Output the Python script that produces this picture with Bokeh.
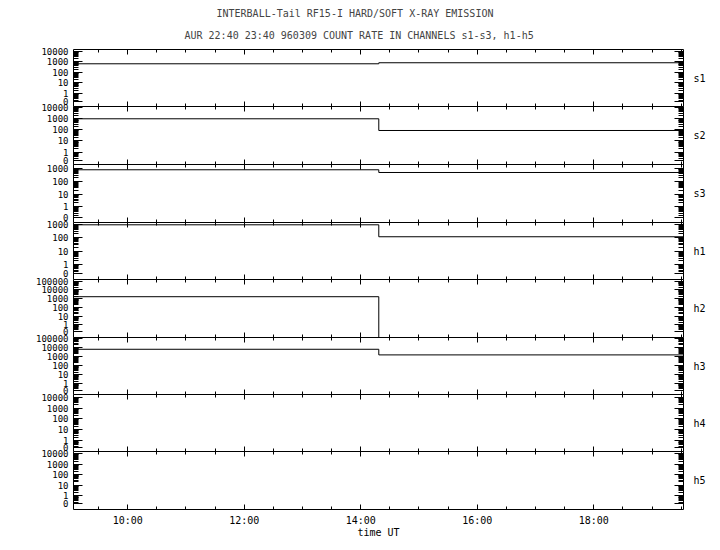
from bokeh.plotting import figure
from bokeh.models import LinearAxis, LogAxis, FixedTicker, Title, Range1d
from bokeh.layouts import column
from bokeh.embed import file_html
from bokeh.resources import INLINE

# ---------------- data ----------------
channels = ["s1", "s2", "s3", "h1", "h2", "h3", "h4", "h5"]
# time in hours UT: start, step time, end
times = [9.0, 14.31, 19.6]
s1 = [630, 790, 790]
s2 = [930, 85, 85]
s3 = [820, 500, 500]
h1 = [890, 116, 116]
h2 = [1700, 0, 0]
h3 = [6300, 1520, 1520]
h4 = []
h5 = []
series = [s1, s2, s3, h1, h2, h3, h4, h5]

# y tick labels per panel (top decade)
y_top_labels = ["10000", "10000", "1000", "1000", "100000", "100000", "10000", "10000"]

x_tick_values = [10, 12, 14, 16, 18]
x_tick_labels = ["10:00", "12:00", "14:00", "16:00", "18:00"]
x_minor_ticks = [9.5, 10.5, 11, 11.5, 12.5, 13, 13.5, 14.5, 15, 15.5, 16.5, 17, 17.5, 18.5, 19, 19.5]

title1 = "INTERBALL-Tail RF15-I HARD/SOFT X-RAY EMISSION"
title2 = "AUR 22:40 23:40 960309  COUNT RATE IN CHANNELS s1-s3, h1-h5"
x_label = "time UT"

# ---------------- layout / style config ----------------
x_start, x_end = 9.07, 19.54
# log10 extent of each panel (bottom, top)
y_log_extent = [(-1.27, 4.16), (-1.09, 4.06), (-1.25, 3.33), (-1.10, 3.12),
                (-1.44, 5.20), (-1.16, 5.09), (-1.02, 4.26), (-1.35, 4.23)]
# where the "0" label sits (log10 below 1)
zero_pos = [-0.76, -0.74, -0.85, -0.66, -0.77, -0.73, -0.62, -0.80]
frame_heights = [57, 58, 58, 57, 58, 57, 57, 58]

FONT = "DejaVu Sans Mono"
FRAME_W = 610
LEFT_B = 73
RIGHT_B = 29
PAD = 7   # transparent overlap so tick labels may spill into neighbours

minor_all = sorted(set(round(m * 10.0 ** k, 6) for k in range(-1, 6) for m in range(2, 10)))


def style_ticks(ax, major_in, minor_in):
    ax.major_tick_in = major_in
    ax.major_tick_out = 0
    ax.minor_tick_in = minor_in
    ax.minor_tick_out = 0
    ax.axis_line_color = "black"
    ax.major_tick_line_color = "black"
    ax.minor_tick_line_color = "black"


def hide_labels(ax):
    ax.major_label_text_font_size = "1px"
    ax.major_label_text_color = None
    ax.major_label_standoff = 0


figs = []
n = len(channels)
for i, ch in enumerate(channels):
    lo, hi = y_log_extent[i]
    first = i == 0
    last = i == n - 1
    p = figure(frame_width=FRAME_W, frame_height=frame_heights[i],
               x_range=Range1d(x_start, x_end),
               y_range=Range1d(10 ** lo, 10 ** hi),
               y_axis_type="log", x_axis_location=None, y_axis_location=None,
               output_backend="svg", toolbar_location=None,
               min_border_left=LEFT_B, min_border_right=RIGHT_B,
               min_border_top=49 if first else PAD,
               min_border_bottom=0 if last else PAD)
    if not first:
        p.styles = {"margin-top": "-%dpx" % (2 * PAD)}
    p.outline_line_color = None
    p.grid.visible = False
    p.background_fill_color = "white"
    p.border_fill_color = None

    # y ticks
    top_exp = len(y_top_labels[i]) - 1
    zero_val = round(10 ** zero_pos[i], 4)
    yt = [zero_val] + [10.0 ** k for k in range(0, top_exp + 1)]
    ylabels = ["0"] + [str(10 ** k) for k in range(0, top_exp + 1)]
    yminor = [m for m in minor_all if zero_val < m < 10 ** hi]
    yticker = FixedTicker(ticks=yt, minor_ticks=yminor)

    la = LogAxis(ticker=yticker)
    la.major_label_overrides = dict(zip(yt, ylabels))
    la.major_label_text_font = FONT
    la.major_label_text_font_size = "9px"
    la.major_label_text_color = "black"
    la.major_label_standoff = 5
    style_ticks(la, 9, 5)
    p.add_layout(la, "left")

    ra = LogAxis(ticker=yticker)
    hide_labels(ra)
    style_ticks(ra, 9, 5)
    ra.axis_label = ch
    ra.axis_label_orientation = "horizontal"
    ra.axis_label_text_font = FONT
    ra.axis_label_text_font_size = "10px"
    ra.axis_label_text_font_style = "normal"
    ra.axis_label_text_color = "black"
    ra.axis_label_standoff = 10
    p.add_layout(ra, "right")

    xticker = FixedTicker(ticks=x_tick_values, minor_ticks=x_minor_ticks)
    for loc in ("above", "below"):
        xa = LinearAxis(ticker=xticker)
        style_ticks(xa, 5, 3)
        if loc == "below" and last:
            xa.major_label_overrides = dict(zip(x_tick_values, x_tick_labels))
            xa.major_label_text_font = FONT
            xa.major_label_text_font_size = "10px"
            xa.major_label_text_color = "black"
            xa.major_label_standoff = 5
            xa.axis_label = x_label
            xa.axis_label_text_font = FONT
            xa.axis_label_text_font_size = "10px"
            xa.axis_label_text_font_style = "normal"
            xa.axis_label_text_color = "black"
            xa.axis_label_standoff = -2
        else:
            hide_labels(xa)
        p.add_layout(xa, loc)

    if first:
        p.add_layout(Title(text=title2, text_font=FONT, text_font_size="10px",
                           text_font_style="normal", align="left", offset=111,
                           standoff=18), "above")
        p.add_layout(Title(text=title1, text_font=FONT, text_font_size="10px",
                           text_font_style="normal", align="left", offset=143,
                           standoff=0), "above")

    vals = series[i]
    if vals:
        yv = [max(v, 1e-3) for v in vals]
        p.step(x=times[:len(vals)], y=yv, mode="after", line_color="black", line_width=1)
    figs.append(p)

layout = column(*figs, spacing=0)
open("out.html", "w").write(file_html(layout, INLINE))
